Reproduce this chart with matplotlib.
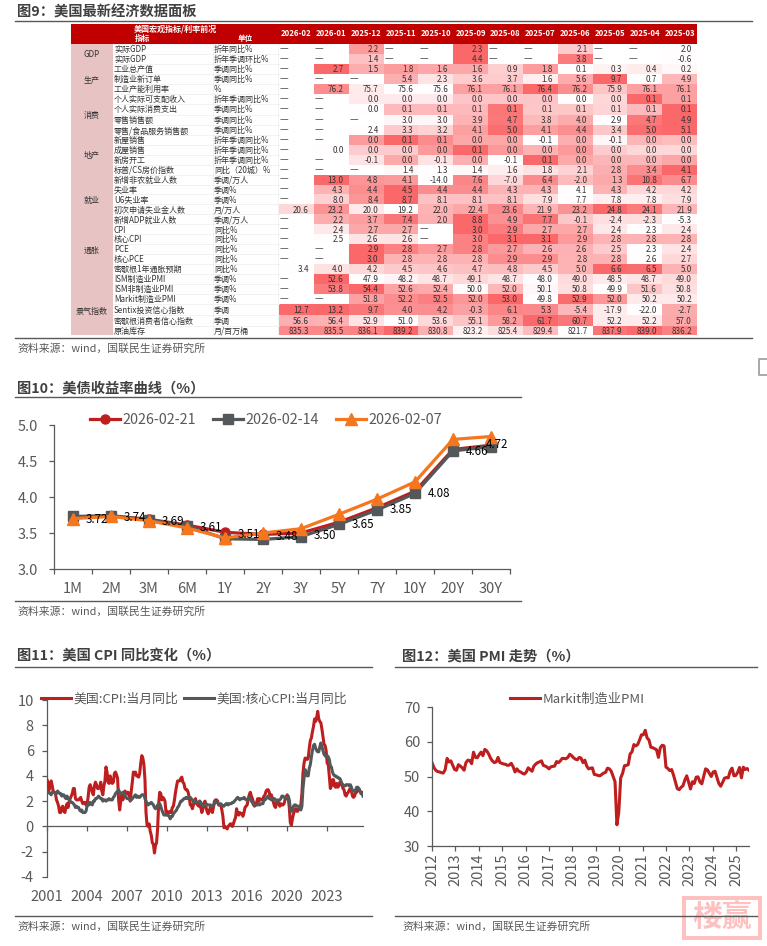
import numpy as np
import matplotlib
matplotlib.use('Agg')
import matplotlib.pyplot as plt
from matplotlib.lines import Line2D
from matplotlib.patches import Rectangle
from matplotlib.colors import to_rgb

plt.rcParams['font.family'] = ['Noto Sans CJK SC', 'DejaVu Sans']
plt.rcParams['axes.unicode_minus'] = False

# ---------------- data: table ----------------
months = ['2026-02', '2026-01', '2025-12', '2025-11', '2025-10', '2025-09', '2025-08', '2025-07', '2025-06', '2025-05', '2025-04', '2025-03']
groups = [('GDP', 0, 1), ('生产', 2, 4), ('消费', 5, 8), ('地产', 9, 12), ('就业', 13, 17), ('通胀', 18, 22), ('景气指数', 23, 28)]
names = ['实际GDP', '实际GDP', '工业总产值', '制造业新订单', '工业产能利用率', '个人实际可支配收入', '个人实际消费支出', '零售销售额',
         '零售/食品服务销售额', '新屋销售', '成屋销售', '新房开工', '标普/CS房价指数', '新增非农就业人数', '失业率', 'U6失业率',
         '初次申请失业金人数', '新增ADP就业人数', 'CPI', '核心CPI', 'PCE', '核心PCE', '密歇根1年通胀预期', 'ISM制造业PMI',
         'ISM非制造业PMI', 'Markit制造业PMI', 'Sentix投资信心指数', '密歇根消费者信心指数', '原油库存']
units = ['折年同比%', '折年季调环比%', '季调同比%', '季调同比%', '%', '折年季调同比%', '季调同比%', '季调同比%', '季调同比%', '折年季调同比%',
         '折年季调同比%', '折年季调同比%', '同比（20城）%', '季调/万人', '季调%', '季调%', '月/万人', '季调/万人', '同比%', '同比%', '同比%',
         '同比%', '同比%', '季调%', '季调%', '季调%', '季调', '季调', '月/百万桶']
N = None
table_values = [
    [N, N, 2.2, N, N, 2.3, N, N, 2.1, N, N, 2.0],
    [N, N, 1.4, N, N, 4.4, N, N, 3.8, N, N, -0.6],
    [N, 2.7, 1.5, 1.8, 1.6, 1.6, 0.9, 1.8, 0.1, 0.3, 0.4, 0.2],
    [N, N, N, 5.4, 2.3, 3.6, 3.7, 1.6, 5.6, 9.7, 0.7, 4.9],
    [N, 76.2, 75.7, 75.6, 75.6, 76.1, 76.1, 76.4, 76.2, 75.9, 76.1, 76.1],
    [N, N, 0.01, 0.01, 0.01, 0.03, 0.03, 0.03, 0.0, 0.02, 0.08, 0.05],
    [N, N, 0.02, 0.07, 0.07, 0.07, 0.12, 0.06, 0.06, 0.05, 0.07, 0.13],
    [N, N, N, 3.0, 3.0, 3.9, 4.7, 3.8, 4.0, 2.9, 4.7, 4.9],
    [N, N, 2.4, 3.3, 3.2, 4.1, 5.0, 4.1, 4.4, 3.4, 5.0, 5.1],
    [N, N, 0.049, 0.12, 0.07, 0.03, 0.03, -0.09, 0.02, -0.08, 0.01, 0.0],
    [N, 0.0, 0.02, 0.02, 0.04, 0.06, 0.04, 0.03, 0.04, 0.02, 0.015, 0.015],
    [N, N, -0.05, 0.04, -0.05, 0.03, -0.09, 0.14, 0.04, 0.02, 0.02, 0.045],
    [N, N, N, 1.4, 1.3, 1.4, 1.6, 1.8, 2.1, 2.8, 3.4, 4.1],
    [N, 13.0, 4.8, 4.1, -14.0, 7.6, -7.0, 6.4, -2.0, 1.3, 10.8, 6.7],
    [N, 4.3, 4.4, 4.5, 4.4, 4.4, 4.3, 4.3, 4.1, 4.3, 4.2, 4.2],
    [N, 8.0, 8.4, 8.7, 8.1, 8.1, 8.1, 7.9, 7.7, 7.8, 7.8, 7.9],
    [20.6, 23.2, 20.0, 19.2, 22.0, 22.4, 23.6, 21.9, 23.2, 24.8, 24.1, 21.9],
    [N, 2.2, 3.7, 7.4, 2.0, 8.8, 4.9, 7.7, -0.1, -2.4, -2.3, -5.3],
    [N, 2.4, 2.7, 2.7, N, 3.0, 2.9, 2.7, 2.7, 2.4, 2.3, 2.4],
    [N, 2.5, 2.6, 2.6, N, 3.0, 3.1, 3.1, 2.9, 2.8, 2.8, 2.8],
    [N, N, 2.9, 2.8, 2.7, 2.8, 2.7, 2.6, 2.6, 2.5, 2.3, 2.4],
    [N, N, 3.0, 2.8, 2.8, 2.8, 2.9, 2.9, 2.8, 2.8, 2.6, 2.7],
    [3.4, 4.0, 4.2, 4.5, 4.6, 4.7, 4.8, 4.5, 5.0, 6.6, 6.5, 5.0],
    [N, 52.6, 47.9, 48.2, 48.7, 49.1, 48.7, 48.0, 49.0, 48.5, 48.7, 49.0],
    [N, 53.8, 54.4, 52.6, 52.4, 50.0, 52.0, 50.1, 50.8, 49.9, 51.6, 50.8],
    [N, N, 51.8, 52.2, 52.5, 52.0, 53.0, 49.8, 52.9, 52.0, 50.2, 50.2],
    [12.7, 13.2, 9.7, 4.0, 4.2, -0.3, 6.1, 5.3, -5.4, -17.9, -22.0, -2.7],
    [56.6, 56.4, 52.9, 51.0, 53.6, 55.1, 58.2, 61.7, 60.7, 52.2, 52.2, 57.0],
    [835.3, 835.5, 836.1, 839.2, 830.8, 823.2, 825.4, 829.4, 821.7, 837.9, 839.0, 836.2],
]
# ---------------- data: yield curve ----------------
tenors = ['1M', '2M', '3M', '6M', '1Y', '2Y', '3Y', '5Y', '7Y', '10Y', '20Y', '30Y']
y_0221 = [3.72, 3.74, 3.69, 3.61, 3.51, 3.48, 3.50, 3.65, 3.85, 4.08, 4.66, 4.72]
y_0214 = [3.73, 3.74, 3.68, 3.60, 3.42, 3.41, 3.45, 3.62, 3.82, 4.05, 4.64, 4.70]
y_0207 = [3.70, 3.73, 3.67, 3.57, 3.43, 3.50, 3.56, 3.76, 3.97, 4.21, 4.80, 4.84]
# ---------------- data: CPI (monthly from 2001-01) ----------------
cpi = [3.7,3.5,2.9,3.3,3.6,3.2,2.7,2.7,2.6,2.1,1.9,1.6, 1.1,1.1,1.5,1.6,1.2,1.1,1.5,1.8,1.5,2.0,2.2,2.4,
       2.6,3.0,3.0,2.2,2.1,2.1,2.1,2.2,2.3,2.0,1.8,1.9, 1.9,1.7,1.7,2.3,3.1,3.3,3.0,2.7,2.5,3.2,3.5,3.3,
       3.0,3.0,3.1,3.5,2.8,2.5,3.2,3.6,4.7,4.3,3.5,3.4, 4.0,3.6,3.4,3.5,4.2,4.3,4.1,3.8,2.1,1.3,2.0,2.5,
       2.1,2.4,2.8,2.6,2.7,2.7,2.4,2.0,2.8,3.5,4.3,4.1, 4.3,4.0,4.0,3.9,4.2,5.0,5.6,5.4,4.9,3.7,1.1,0.1,
       0.0,0.2,-0.4,-0.7,-1.3,-1.4,-2.1,-1.5,-1.3,-0.2,1.8,2.7, 2.6,2.1,2.3,2.2,2.0,1.1,1.2,1.1,1.1,1.2,1.1,1.5,
       1.6,2.1,2.7,3.2,3.6,3.6,3.6,3.8,3.9,3.5,3.4,3.0, 2.9,2.9,2.7,2.3,1.7,1.7,1.4,1.7,2.0,2.2,1.8,1.7,
       1.6,2.0,1.5,1.1,1.4,1.8,2.0,1.5,1.2,1.0,1.2,1.5, 1.6,1.1,1.5,2.0,2.1,2.1,2.0,1.7,1.7,1.7,1.3,0.8,
       -0.1,0.0,-0.1,-0.2,0.0,0.1,0.2,0.2,0.0,0.2,0.5,0.7, 1.4,1.0,0.9,1.1,1.0,1.0,0.8,1.1,1.5,1.6,1.7,2.1,
       2.5,2.7,2.4,2.2,1.9,1.6,1.7,1.9,2.2,2.0,2.2,2.1, 2.1,2.2,2.4,2.5,2.8,2.9,2.9,2.7,2.3,2.5,2.2,1.9,
       1.6,1.5,1.9,2.0,1.8,1.6,1.8,1.7,1.7,1.8,2.1,2.3, 2.5,2.3,1.5,0.3,0.1,0.6,1.0,1.3,1.4,1.2,1.2,1.4,
       1.4,1.7,2.6,4.2,5.0,5.4,5.4,5.3,5.4,6.2,6.8,7.0, 7.5,7.9,8.5,8.3,8.6,9.1,8.5,8.3,8.2,7.7,7.1,6.5,
       6.4,6.0,5.0,4.9,4.0,3.0,3.2,3.7,3.7,3.2,3.1,3.4, 3.1,3.2,3.5,3.4,3.3,3.0,2.9,2.5,2.4,2.6,2.7,2.9,
       3.0,2.8,2.4,2.3,2.4,2.7,2.7,2.9,3.0,2.8,2.7,2.7,2.6]
core_cpi = [2.6,2.7,2.7,2.6,2.5,2.7,2.7,2.7,2.6,2.6,2.8,2.7, 2.6,2.6,2.4,2.5,2.5,2.3,2.2,2.4,2.2,2.2,2.0,1.9,
       1.9,1.8,1.7,1.5,1.6,1.5,1.5,1.3,1.2,1.3,1.1,1.1, 1.1,1.2,1.6,1.8,1.7,1.9,1.8,1.7,2.0,2.0,2.2,2.2,
       2.3,2.4,2.3,2.2,2.2,2.0,2.1,2.1,2.0,2.1,2.1,2.2, 2.1,2.1,2.1,2.3,2.4,2.6,2.7,2.8,2.9,2.7,2.6,2.6,
       2.7,2.7,2.5,2.3,2.2,2.2,2.2,2.1,2.1,2.2,2.3,2.4, 2.5,2.3,2.4,2.3,2.3,2.4,2.5,2.5,2.5,2.2,2.0,1.8,
       1.7,1.8,1.8,1.9,1.8,1.7,1.5,1.4,1.5,1.7,1.7,1.8, 1.6,1.3,1.1,0.9,0.9,0.9,0.9,0.9,0.8,0.6,0.8,0.8,
       1.0,1.1,1.2,1.3,1.5,1.6,1.8,2.0,2.0,2.1,2.2,2.2, 2.3,2.2,2.3,2.3,2.3,2.2,2.1,1.9,2.0,2.0,1.9,1.9,
       1.9,2.0,1.9,1.7,1.7,1.6,1.7,1.8,1.7,1.7,1.7,1.7, 1.6,1.6,1.7,1.8,2.0,1.9,1.9,1.7,1.7,1.8,1.7,1.6,
       1.6,1.7,1.8,1.8,1.7,1.8,1.8,1.8,1.9,1.9,2.0,2.1, 2.2,2.3,2.2,2.1,2.2,2.2,2.2,2.3,2.2,2.1,2.1,2.2,
       2.3,2.2,2.0,1.9,1.7,1.7,1.7,1.7,1.7,1.8,1.7,1.8, 1.8,1.8,2.1,2.1,2.2,2.3,2.4,2.2,2.2,2.1,2.2,2.2,
       2.2,2.1,2.0,2.1,2.0,2.1,2.2,2.4,2.4,2.3,2.3,2.3, 2.3,2.4,2.1,1.4,1.2,1.2,1.6,1.7,1.7,1.6,1.6,1.6,
       1.4,1.3,1.6,3.0,3.8,4.5,4.3,4.0,4.0,4.6,4.9,5.5, 6.0,6.4,6.5,6.2,6.0,5.9,5.9,6.3,6.6,6.3,6.0,5.7,
       5.6,5.5,5.6,5.5,5.3,4.8,4.7,4.3,4.1,4.0,4.0,3.9, 3.9,3.8,3.8,3.6,3.4,3.3,3.2,3.2,3.3,3.3,3.3,3.2,
       3.3,3.1,2.8,2.8,2.8,2.9,3.1,3.1,3.0,2.8,2.6,2.6,2.4]
cpi_tick_labels = ['2001', '2004', '2007', '2010', '2013', '2016', '2020', '2023']
# ---------------- data: PMI (monthly) ----------------
pmi = [54,52.6,51.8,51.4,51.3,51.1,51,52,55.2,54.2,54.5,53.2,
       52,51.8,53.4,53,52.5,51.8,54,54.7,54.6,53.7,57,55.5,
       55.4,56.3,57,56,57.8,57.4,56.5,55.3,54.5,54,54.2,55.5,
       54,53.8,53.6,53.5,53.2,53.3,53.8,52.8,51.3,52.2,51.5,51.3,
       50.9,50.7,51.3,52.5,52,51.5,53,53.6,54,54.2,54.5,53.2,
       53,52.7,52.2,52.8,52.9,53,54.3,54,54.5,55.2,55.2,55.1,
       55.5,56.4,56,55.4,55,54.8,55.5,55.3,54,54.7,53,52.2,
       52.4,52.5,50.6,50.5,50.3,50.2,50.6,51,51.2,52.4,52.2,51.5,
       50,48.5,36.1,39.8,49.6,50.9,53.1,53.2,53.4,56.5,57.1,59.2,
       58.8,59.2,60.5,62,62,63.3,61.1,60.5,58.4,58.3,58,57.7,
       55.5,58.3,59,58.8,52.7,52.3,51.7,52,50.4,48.5,46.5,46.2,
       46.9,47.3,49,50.2,48.4,46.4,48.5,48,49.8,49.9,48.4,47.9,
       50,52.2,51.9,50.9,50,51.3,51.5,49.7,48,47.2,48.3,49.5,
       49.7,49.6,51.5,52.4,50.2,50.3,51.2,52.6,49.6,52.7,52,52.3,51.8]
pmi_tick_labels = [str(y) for y in range(2012, 2026)]

# ---------------- canvas helpers ----------------
W, H = 767, 946
fig = plt.figure(figsize=(W / 100, H / 100), dpi=100, facecolor='white')
GRAY = '#595959'; RED = '#BE1E1E'; DGRAY = '#54585A'; ORANGE = '#F5761E'
TF = 10.3

def axpx(x0, y0, x1, y1, **kw):
    return fig.add_axes([x0 / W, 1 - y1 / H, (x1 - x0) / W, (y1 - y0) / H], **kw)

def ftext(x, y, s, **kw):
    kw.setdefault('va', 'center')
    return fig.text(x / W, 1 - y / H, s, **kw)

def hline(x0, x1, y, color='#595959', lw=1.0):
    fig.add_artist(Line2D([x0 / W, x1 / W], [1 - y / H, 1 - y / H], color=color, lw=lw, zorder=20))

def section(title, tx, ty, x0, x1, ly, sy, sly):
    ftext(tx, ty, title, fontsize=TF, fontweight='bold', color='#404040')
    hline(x0, x1, ly)
    hline(x0, x1, sly)
    ftext(tx, sy, '资料来源：wind，国联民生证券研究所', fontsize=7.8, color=GRAY)

section('图9：美国最新经济数据面板', 17, 12, 15, 752, 21, 349, 338)
section('图10：美债收益率曲线（%）', 17, 389, 15, 521, 397, 612, 601)
section('图11：美国 CPI 同比变化（%）', 17, 657, 15, 372, 667, 927, 916)
section('图12：美国 PMI 走势（%）', 402, 657, 395, 757, 667, 927, 916)

# ---------------- table ----------------
heights = [10, 10, 10, 10, 10, 10, 11, 10.5, 10, 10, 10, 10, 10, 10, 10, 10, 10, 10, 10, 10, 10, 10, 10, 10, 10, 10, 11.5, 10.5, 9.5]
edges = np.concatenate([[0], np.cumsum(heights)])
centers = (edges[:-1] + edges[1:]) / 2 + 0.8
ncol = len(months)
T0, T1, HDR, TB = 71, 697, 44, 335
ax_hdr = axpx(T0, 24, T1, HDR); ax_hdr.axis('off')
ax_hdr.add_patch(Rectangle((0, 0), 1, 1, color='#C00000', transform=ax_hdr.transAxes))

tab = axpx(T0, HDR, T1, TB)
tab.set_xlim(T0, T1); tab.set_ylim(edges[-1], 0); tab.axis('off')
colx = np.linspace(279, T1, ncol + 1)
lo = np.array(to_rgb('#FFFDFE')); hi = np.array(to_rgb('#FA686A'))
rgb = np.ones((len(table_values), ncol, 3))
for r, row in enumerate(table_values):
    vals = [v for v in row if v is not None]
    mn, mx = min(vals), max(vals)
    for c, v in enumerate(row):
        if v is not None:
            t = (v - mn) / (mx - mn) if mx > mn else 0
            rgb[r, c] = lo + (hi - lo) * t
tab.pcolormesh(colx, edges, rgb, shading='flat', zorder=1)
for g, a, b in groups:
    tab.add_patch(Rectangle((T0, edges[a]), 113 - T0, edges[b + 1] - edges[a], fc='#E8C3C3', ec='none', zorder=2))
    yc = (edges[a] + edges[b + 1]) / 2 + (7 if g == '景气指数' else 0.8)
    tab.text(92, yc, g, ha='center', va='center', fontsize=5.8, color='#333333', zorder=4)
for r in range(len(names)):
    tab.text(114, centers[r], names[r], ha='left', va='center', fontsize=5.8, color='#333333', zorder=4)
    tab.text(214, centers[r], units[r], ha='left', va='center', fontsize=5.8, color='#333333', zorder=4)
    for c, v in enumerate(table_values[r]):
        if v is None:
            tab.text(colx[c] + 1, centers[r] - 0.8, '—', ha='left', va='center', fontsize=7.0, color='#555555', zorder=4)
        else:
            s = f'{abs(v):.1f}'
            if v < 0 and s != '0.0':
                s = '-' + s
            tab.text(colx[c + 1] - 5, centers[r], s, ha='right', va='center', fontsize=5.8, color='#333333', zorder=4)
for e in edges:
    tab.plot([113, 279], [e, e], color='#EDEDED', lw=0.5, zorder=3)
for x in (213, 278):
    tab.plot([x, x], [0, edges[-1]], color='#EDEDED', lw=0.5, zorder=3)
ftext(175, 29, '美国宏观指标/利率前况', ha='center', fontsize=5.8, fontweight='bold', color='white')
ftext(142, 38.5, '指标', ha='center', fontsize=5.5, fontweight='bold', color='white')
ftext(245, 39, '单位', ha='center', fontsize=5.5, fontweight='bold', color='white')
for c, m in enumerate(months):
    ftext((colx[c] + colx[c + 1]) / 2, 33.5, m, ha='center', fontsize=5.6, fontweight='bold', color='white')

# ---------------- fig 10 ----------------
def style(ax, ypad, fs=10.5):
    for s in ('top', 'right'):
        ax.spines[s].set_visible(False)
    for s in ('left', 'bottom'):
        ax.spines[s].set_color(GRAY); ax.spines[s].set_linewidth(0.9)
    ax.tick_params(colors=GRAY, labelsize=fs, width=0.9, length=3.5)
    ax.tick_params(axis='y', pad=ypad)
    ax.patch.set_alpha(0)

ax = axpx(54, 425, 510, 569)
style(ax, 8)
x = np.arange(len(tenors))
ax.plot(x, y_0221, color=RED, lw=2.3, marker='o', ms=6.5, label='2026-02-21', zorder=3)
ax.plot(x, y_0214, color=DGRAY, lw=2.3, marker='s', ms=6.5, label='2026-02-14', zorder=4)
ax.plot(x, y_0207, color=ORANGE, lw=2.3, marker='^', ms=8, label='2026-02-07', zorder=5)
ax.set_xlim(-0.5, 11.5); ax.set_ylim(3.0, 5.0)
ax.set_yticks([3.0, 3.5, 4.0, 4.5, 5.0]); ax.set_yticklabels(['3.0', '3.5', '4.0', '4.5', '5.0'])
ax.set_xticks(np.arange(-0.5, 12, 1)); ax.set_xticklabels([])
ax.set_xticks(x, minor=True); ax.set_xticklabels(tenors, minor=True)
ax.tick_params(axis='x', which='minor', length=0, pad=9, colors=GRAY, labelsize=10.5)
for i, v in enumerate(y_0221):
    dx = 6 if i == 11 else 24
    dy = 1 if i == 11 else -2
    ax.annotate(f'{v:.2f}', (i, v), xytext=(dx * 0.72, dy * 0.72), textcoords='offset points',
                ha='center', va='center', fontsize=8.3, color='black', zorder=6, annotation_clip=False)
ax.legend(loc='center', bbox_to_anchor=(266 / W, 1 - 420 / H), bbox_transform=fig.transFigure, ncol=3, frameon=False,
          fontsize=10.3, labelcolor=GRAY, handlelength=2.1, handletextpad=0.2, columnspacing=1.15, borderpad=0, borderaxespad=0)

# ---------------- fig 11 ----------------
ax = axpx(47, 700, 363, 877)
style(ax, 6)
mx = np.arange(len(cpi))
ax.plot(mx, cpi, color=RED, lw=2.2, label='美国:CPI:当月同比', zorder=3, solid_joinstyle='round')
ax.plot(np.arange(len(core_cpi)), core_cpi, color=DGRAY, lw=2.2, label='美国:核心CPI:当月同比', zorder=4)
ax.set_xlim(0, len(cpi) - 1); ax.set_ylim(-4, 10)
ax.set_yticks(range(-4, 11, 2))
ax.spines['bottom'].set_position(('data', 0))
ax.set_xticks(np.arange(len(cpi_tick_labels)) * 38)
ax.set_xticklabels(cpi_tick_labels)
ax.tick_params(axis='x', pad=42)
ax.legend(loc='center left', bbox_to_anchor=(41 / W, 1 - 699 / H), bbox_transform=fig.transFigure, ncol=2, frameon=False,
          fontsize=9.3, labelcolor=GRAY, handlelength=2.3, handletextpad=0.2, columnspacing=0.45, borderpad=0, borderaxespad=0)

# ---------------- fig 12 ----------------
ax = axpx(432, 707, 749, 846)
style(ax, 5)
px = np.arange(len(pmi))
ax.plot(px, pmi, color=RED, lw=2.2, label='Markit制造业PMI')
ax.set_xlim(0, len(pmi) - 1); ax.set_ylim(30, 70)
ax.set_yticks(range(30, 71, 10))
ax.set_xticks(np.arange(len(pmi_tick_labels)) * 12.4)
ax.set_xticklabels(pmi_tick_labels, rotation=90)
ax.tick_params(axis='x', pad=2)
ax.legend(loc='center left', bbox_to_anchor=(510 / W, 1 - 699 / H), bbox_transform=fig.transFigure, frameon=False,
          fontsize=9.5, labelcolor=GRAY, handlelength=2.3, handletextpad=0.2, borderpad=0, borderaxespad=0)

# ---------------- watermark and page mark ----------------
fig.add_artist(Rectangle((684 / W, 1 - 938 / H), 76 / W, 40 / H, transform=fig.transFigure, fc='white', ec='#FFC0C0', lw=2.9, zorder=10))
ftext(722, 917, '楼赢', ha='center', fontsize=21.5, color='#FFC0C0', zorder=11, fontweight='bold')
GB = '#A8A8A8'
fig.add_artist(Line2D([767 / W, 759 / W, 759 / W, 767 / W], [1 - 359 / H, 1 - 359 / H, 1 - 375 / H, 1 - 375 / H], color=GB, lw=1.4))

fig.savefig('out.png', dpi=100)
